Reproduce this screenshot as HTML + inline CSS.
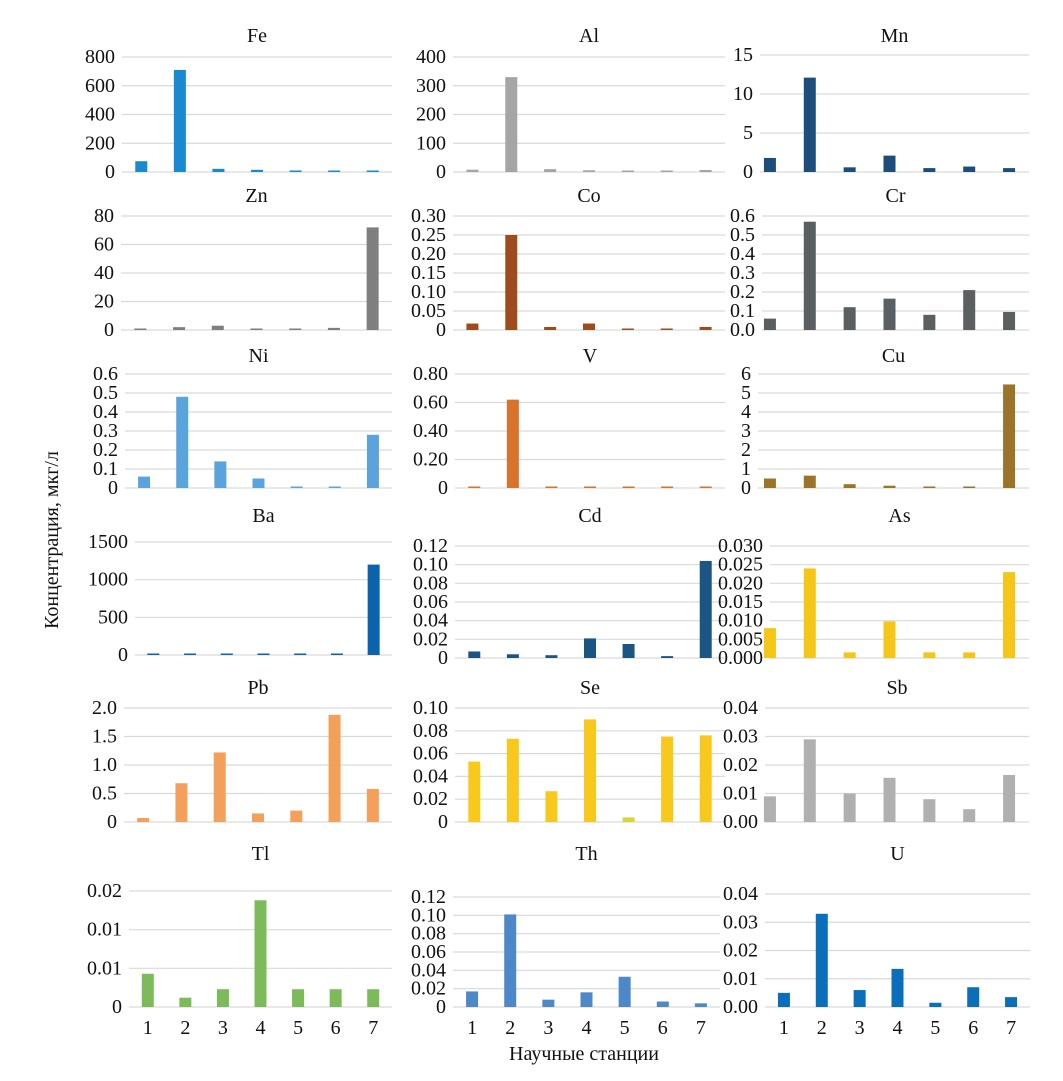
<!DOCTYPE html>
<html><head><meta charset="utf-8">
<style>
html,body{margin:0;padding:0;background:#fff;}
svg{display:block;font-family:"Liberation Serif","DejaVu Serif",serif;}
</style></head>
<body>
<svg id="chart" width="1063" height="1081" viewBox="0 0 1063 1081" xmlns="http://www.w3.org/2000/svg">
<text x="0" y="0" transform="translate(58,540) rotate(-90)" text-anchor="middle" font-size="20" fill="#111">Концентрация, мкг/л</text>
<text x="584" y="1060" text-anchor="middle" font-size="20" fill="#111">Научные станции</text>
</svg>
<script>
const categories = ['1','2','3','4','5','6','7'];
const feValues = [75, 710, 22, 15, 6, 5, 5];
const feTicks = [0, 200, 400, 600, 800];
const feTickLabels = ['0','200','400','600','800'];
const alValues = [8, 330, 10, 6, 3, 3, 7];
const alTicks = [0, 100, 200, 300, 400];
const alTickLabels = ['0','100','200','300','400'];
const mnValues = [1.8, 12.1, 0.6, 2.1, 0.5, 0.7, 0.5];
const mnTicks = [0, 5, 10, 15];
const mnTickLabels = ['0','5','10','15'];
const znValues = [0.5, 2, 3, 1, 0, 1.5, 72];
const znTicks = [0, 20, 40, 60, 80];
const znTickLabels = ['0','20','40','60','80'];
const coValues = [0.017, 0.25, 0.008, 0.017, 0, 0.003, 0.008];
const coTicks = [0, 0.05, 0.10, 0.15, 0.20, 0.25, 0.30];
const coTickLabels = ['0','0.05','0.10','0.15','0.20','0.25','0.30'];
const crValues = [0.06, 0.57, 0.12, 0.165, 0.08, 0.21, 0.095];
const crTicks = [0, 0.1, 0.2, 0.3, 0.4, 0.5, 0.6];
const crTickLabels = ['0.0','0.1','0.2','0.3','0.4','0.5','0.6'];
const niValues = [0.06, 0.48, 0.14, 0.05, 0.003, 0.003, 0.28];
const niTicks = [0, 0.1, 0.2, 0.3, 0.4, 0.5, 0.6];
const niTickLabels = ['0','0.1','0.2','0.3','0.4','0.5','0.6'];
const vValues = [0.005, 0.62, 0.01, 0.01, 0.005, 0.005, 0.005];
const vTicks = [0, 0.2, 0.4, 0.6, 0.8];
const vTickLabels = ['0','0.20','0.40','0.60','0.80'];
const cuValues = [0.5, 0.65, 0.2, 0.12, 0.03, 0.03, 5.45];
const cuTicks = [0, 1, 2, 3, 4, 5, 6];
const cuTickLabels = ['0','1','2','3','4','5','6'];
const baValues = [10, 10, 10, 10, 10, 10, 1200];
const baTicks = [0, 500, 1000, 1500];
const baTickLabels = ['0','500','1000','1500'];
const cdValues = [0.007, 0.004, 0.003, 0.021, 0.015, 0.002, 0.104];
const cdTicks = [0, 0.02, 0.04, 0.06, 0.08, 0.10, 0.12];
const cdTickLabels = ['0','0.02','0.04','0.06','0.08','0.10','0.12'];
const asValues = [0.008, 0.024, 0.0015, 0.0098, 0.0015, 0.0015, 0.023];
const asTicks = [0, 0.005, 0.010, 0.015, 0.020, 0.025, 0.030];
const asTickLabels = ['0.000','0.005','0.010','0.015','0.020','0.025','0.030'];
const pbValues = [0.07, 0.68, 1.22, 0.15, 0.2, 1.88, 0.58];
const pbTicks = [0, 0.5, 1.0, 1.5, 2.0];
const pbTickLabels = ['0','0.5','1.0','1.5','2.0'];
const seValues = [0.053, 0.073, 0.027, 0.09, 0.004, 0.075, 0.076];
const seTicks = [0, 0.02, 0.04, 0.06, 0.08, 0.10];
const seTickLabels = ['0','0.02','0.04','0.06','0.08','0.10'];
const sbValues = [0.009, 0.029, 0.010, 0.0155, 0.008, 0.0045, 0.0165];
const sbTicks = [0, 0.01, 0.02, 0.03, 0.04];
const sbTickLabels = ['0.00','0.01','0.02','0.03','0.04'];
const tlValues = [0.0043, 0.0012, 0.0023, 0.0138, 0.0023, 0.0023, 0.0023];
const tlTicks = [0, 0.005, 0.010, 0.015];
const tlTickLabels = ['0','0.01','0.01','0.02'];
const thValues = [0.017, 0.101, 0.008, 0.016, 0.033, 0.006, 0.004];
const thTicks = [0, 0.02, 0.04, 0.06, 0.08, 0.10, 0.12];
const thTickLabels = ['0','0.02','0.04','0.06','0.08','0.10','0.12'];
const uValues = [0.005, 0.033, 0.006, 0.0135, 0.0015, 0.007, 0.0035];
const uTicks = [0, 0.01, 0.02, 0.03, 0.04];
const uTickLabels = ['0.00','0.01','0.02','0.03','0.04'];

const svg = document.getElementById('chart');
const NS = 'http://www.w3.org/2000/svg';
function mk(tag, attrs){const e=document.createElementNS(NS,tag);for(const k in attrs)e.setAttribute(k,attrs[k]);return e;}

// layout: [name, values, ticks, labels, color, x0, x1, gridStart, titleY, topY, zeroY, showX]
const panels = [
 ['Fe', feValues, feTicks, feTickLabels, '#1a8ad0', 122, 392, 122, 42, 57, 172, false],
 ['Al', alValues, alTicks, alTickLabels, '#a5a5a5', 453, 725, 453, 42, 57, 172, false],
 ['Mn', mnValues, mnTicks, mnTickLabels, '#1d4d7a', 750, 1029, 760, 42, 55, 172, false],
 ['Zn', znValues, znTicks, znTickLabels, '#7f7f7f', 121, 392, 121, 202, 216, 330, false],
 ['Co', coValues, coTicks, coTickLabels, '#a04b1d', 453, 725, 453, 202, 216, 330, false],
 ['Cr', crValues, crTicks, crTickLabels, '#5a5f61', 750, 1029, 762, 202, 216, 330, false],
 ['Ni', niValues, niTicks, niTickLabels, '#5ba3dc', 125, 392, 125, 362, 374, 488, false],
 ['V', vValues, vTicks, vTickLabels, '#d9722a', 455, 725, 455, 362, 374, 488, false],
 ['Cu', cuValues, cuTicks, cuTickLabels, '#9a7428', 750, 1029, 758, 362, 374, 488, false],
 ['Ba', baValues, baTicks, baTickLabels, '#0a64ad', 135, 392, 135, 522, 542, 655, false],
 ['Cd', cdValues, cdTicks, cdTickLabels, '#1b5584', 455, 725, 455, 522, 546, 658, false],
 ['As', asValues, asTicks, asTickLabels, '#f5c518', 750, 1029, 770, 522, 546, 658, false],
 ['Pb', pbValues, pbTicks, pbTickLabels, '#f4a05a', 124, 392, 124, 694, 708, 822, false],
 ['Se', seValues, seTicks, seTickLabels, '#f8c81c', 455, 725, 455, 694, 708, 822, false],
 ['Sb', sbValues, sbTicks, sbTickLabels, '#b0b0b0', 750, 1029, 765, 694, 708, 822, false],
 ['Tl', tlValues, tlTicks, tlTickLabels, '#7dbb5a', 129, 392, 129, 860, 891, 1007, true],
 ['Th', thValues, thTicks, thTickLabels, '#4d88c9', 453, 720, 453, 860, 897, 1007, true],
 ['U', uValues, uTicks, uTickLabels, '#0a6fba', 765, 1030, 765, 860, 894, 1007, true]
];

panels.forEach(p => {
  const [name, vals, ticks, labels, color, x0, x1, gs, titleY, topY, zeroY, showX] = p;
  const g = mk('g', {});
  
  
  svg.appendChild(g);
  const maxV = ticks[ticks.length - 1];
  const yScale = v => zeroY - (v / maxV) * (zeroY - topY);
  const band = (x1 - x0) / categories.length;
  const xScale = i => x0 + band * (i + 0.5);
  const title = mk('text', {x: (gs + x1) / 2, y: titleY, 'text-anchor': 'middle', 'font-size': 20, fill: '#111'});
  
  
  title.textContent = name;
  g.appendChild(title);
  ticks.forEach((t, i) => {
    const y = yScale(t);
    const ln = mk('line', {x1: gs, x2: x1, y1: y, y2: y, stroke: '#d9d9d9', 'stroke-width': 1.2});
    
    
    g.appendChild(ln);
    const tx = mk('text', {x: gs - 7, y: y + 6, 'text-anchor': 'end', 'font-size': 20, fill: '#111'});
    
    
    tx.textContent = labels[i];
    g.appendChild(tx);
  });
  vals.forEach((v, i) => {
    const y = yScale(v);
    const h = Math.max(zeroY - y, 1.5);
    let c = color;
    if (name === 'Se' && i === 4) c = '#d8d43a';
    const r = mk('rect', {x: xScale(i) - 6, y: zeroY - h, width: 12, height: h, fill: c});
    
    
    g.appendChild(r);
    if (showX) {
      const lx = mk('text', {x: xScale(i), y: 1034, 'text-anchor': 'middle', 'font-size': 20, fill: '#111'});
      
      
      lx.textContent = categories[i];
      g.appendChild(lx);
    }
  });
});
</script>
</body></html>
